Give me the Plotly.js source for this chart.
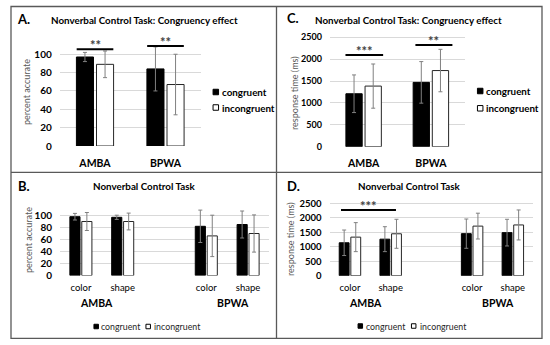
<!DOCTYPE html>
<html><head><meta charset="utf-8">
<script src="https://cdn.plot.ly/plotly-3.0.1.min.js"></script>
<style>html,body{margin:0;padding:0;background:#fff}#chart{width:550px;height:345px}</style>
</head><body><div id="chart"></div>
<script>
// ---------- DATA ----------
const groups = ["AMBA", "BPWA"];
const tasks = ["color", "shape"];
const seriesNames = ["congruent", "incongruent"];

// Panel A: accuracy (%) by group
const accCong = [97, 84];
const accCongErr = [5, 24];
const accIncong = [89, 67];
const accIncongErr = [14.5, 33];

// Panel C: response time (ms) by group
const rtCong = [1210, 1470];
const rtCongErr = [430, 475];
const rtIncong = [1385, 1740];
const rtIncongErr = [505, 485];

// Panel B: accuracy (%) by group x task (AMBA color, AMBA shape, BPWA color, BPWA shape)
const accTaskCong = [98, 97, 82, 85];
const accTaskCongErr = [5.5, 3.5, 27, 22.5];
const accTaskIncong = [90, 90, 66, 70];
const accTaskIncongErr = [15, 14, 34.5, 31];

// Panel D: response time (ms) by group x task
const rtTaskCong = [1135, 1260, 1450, 1485];
const rtTaskCongErr = [440, 430, 505, 460];
const rtTaskIncong = [1330, 1445, 1710, 1750];
const rtTaskIncongErr = [500, 500, 445, 517];

const accTicks = [0, 20, 40, 60, 80, 100];
const rtTicks = [0, 500, 1000, 1500, 2000, 2500];

// significance markers: [x start, x end, y level, label]
const sigA = [[-0.26, 0.26, 105.5, "**"], [0.74, 1.26, 109, "**"]];
const sigC = [[-0.27, 0.29, 2095, "***"], [0.77, 1.32, 2325, "**"]];
const sigD = [[-0.22, 1.13, 2265, "***"]];

// ---------- LAYOUT HELPERS ----------
const W = 550, H = 345;
const px = x => x / W;
const py = y => 1 - y / H;
const FONT = "Lato, 'Open Sans', sans-serif";

// positions on the split axes: empty slot between groups
const taskPos = [];
const taskText = [];
groups.forEach((g, gi) => tasks.forEach((t, ti) => {
  taskPos.push(gi * (tasks.length + 1) + ti);
  taskText.push(t);
}));

function barTrace(x, y, err, idx, xa, ya) {
  const black = idx === 0;
  return {
    type: "bar", x: x, y: y, name: seriesNames[idx], xaxis: xa, yaxis: ya,
    marker: {color: black ? "#000000" : "#ffffff", line: {color: black ? "#000000" : "#262626", width: 1}},
    error_y: {type: "data", array: err, visible: true, color: "#808080", thickness: 1, width: 2},
    showlegend: false, cliponaxis: false
  };
}

const data = [
  barTrace(groups, accCong, accCongErr, 0, "x", "y"),
  barTrace(groups, accIncong, accIncongErr, 1, "x", "y"),
  barTrace(taskPos, accTaskCong, accTaskCongErr, 0, "x2", "y2"),
  barTrace(taskPos, accTaskIncong, accTaskIncongErr, 1, "x2", "y2"),
  barTrace(groups, rtCong, rtCongErr, 0, "x3", "y3"),
  barTrace(groups, rtIncong, rtIncongErr, 1, "x3", "y3"),
  barTrace(taskPos, rtTaskCong, rtTaskCongErr, 0, "x4", "y4"),
  barTrace(taskPos, rtTaskIncong, rtTaskIncongErr, 1, "x4", "y4")
];

const gridCol = "#d9d9d9";
function yAxis(domain, range, ticks, fs) {
  return {
    domain: domain, range: range, tickvals: ticks, ticktext: ticks.map(String),
    showgrid: true, gridcolor: gridCol, gridwidth: 1, zeroline: false, showline: false,
    ticks: "", ticklabelstandoff: 7, fixedrange: true,
    tickfont: {family: FONT, size: fs, color: "#000", weight: "bold"}
  };
}
function xCatAxis(domain, anchor) {
  return {
    domain: domain, anchor: anchor, type: "category", showgrid: false, zeroline: false,
    showline: false, ticks: "", ticklabelstandoff: 9, fixedrange: true,
    tickfont: {family: FONT, size: 10.5, color: "#000", weight: "bold"}
  };
}
function xTaskAxis(domain, anchor) {
  return {
    domain: domain, anchor: anchor, range: [-0.5, taskPos[taskPos.length - 1] + 0.5],
    tickvals: taskPos, ticktext: taskText, showgrid: false, zeroline: false,
    showline: false, ticks: "", ticklabelstandoff: 5, fixedrange: true,
    tickfont: {family: FONT, size: 9.5, color: "#000"}
  };
}

const annotations = [];
const shapes = [];
function txt(text, x, y, size, opts) {
  annotations.push(Object.assign({
    text: text, x: px(x), y: py(y), xref: "paper", yref: "paper", showarrow: false,
    xanchor: "center", yanchor: "middle",
    font: {family: FONT, size: size, color: "#000"}
  }, opts || {}));
}

// panel letters and titles
txt("<b>A.</b>", 15, 19, 13, {xanchor: "left"});
txt("<b>B.</b>", 15.5, 186, 13, {xanchor: "left"});
txt("<b>C.</b>", 285, 18, 13, {xanchor: "left"});
txt("<b>D.</b>", 285, 186, 13, {xanchor: "left"});
txt("<b>Nonverbal Control Task: Congruency effect</b>", 144.5, 19.5, 9.8);
txt("<b>Nonverbal Control Task: Congruency effect</b>", 408.7, 19.5, 9.8);
txt("<b>Nonverbal Control Task</b>", 144, 186, 9.8);
txt("<b>Nonverbal Control Task</b>", 409, 186, 9.8);

// y-axis titles
const yTitleFont = {family: FONT, size: 9, color: "#595959"};
txt("percent accurate", 27, 92, 9, {textangle: -90, font: yTitleFont});
txt("percent accurate", 28, 240, 9, {textangle: -90, font: yTitleFont});
txt("response time (ms)", 294.5, 93.5, 9, {textangle: -90, font: yTitleFont});
txt("response time (ms)", 290.5, 239.5, 9, {textangle: -90, font: yTitleFont});

// group labels under split axes
groups.forEach((g, gi) => {
  const center = gi * (tasks.length + 1) + (tasks.length - 1) / 2 + (gi === 0 ? -0.13 : 0.13);
  ["x2", "x4"].forEach(xa => {
    annotations.push({
      text: "<b>" + g + "</b>", x: center, xref: xa, y: py(303), yref: "paper",
      showarrow: false, xanchor: "center", yanchor: "middle",
      font: {family: FONT, size: 10.5, color: "#000"}
    });
  });
});

// significance lines and stars
function sig(list, xa, ya) {
  list.forEach(s => {
    shapes.push({type: "line", xref: xa, yref: ya, x0: s[0], x1: s[1], y0: s[2], y1: s[2],
      line: {color: "#000", width: 2}});
    annotations.push({text: "<b>" + s[3] + "</b>", xref: xa, yref: ya, x: (s[0] + s[1]) / 2, y: s[2],
      yshift: 4, showarrow: false, xanchor: "center", yanchor: "middle",
      font: {family: FONT, size: 13, color: "#404040"}});
  });
}
sig(sigA, "x", "y");
sig(sigC, "x3", "y3");
sig(sigD, "x4", "y4");

// legends (swatch + label)
function legendItem(idx, sx, sy, size, tx, bold, fontSize) {
  shapes.push({type: "rect", xref: "paper", yref: "paper",
    x0: px(sx - size / 2), x1: px(sx + size / 2), y0: py(sy + size / 2), y1: py(sy - size / 2),
    fillcolor: idx === 0 ? "#000" : "#fff", line: {color: "#000", width: 1}});
  txt(bold ? "<b>" + seriesNames[idx] + "</b>" : seriesNames[idx], tx, sy, fontSize,
    {xanchor: "left", font: {family: FONT, size: fontSize, color: bold ? "#000" : "#262626"}});
}
legendItem(0, 215.8, 92, 5.5, 220, true, 9.8);
legendItem(1, 215.8, 107.5, 5.5, 220, true, 9.8);
legendItem(0, 480.2, 91, 5.5, 484.3, true, 9.8);
legendItem(1, 480.2, 108.3, 5.5, 484.3, true, 9.8);
legendItem(0, 96.2, 326.5, 4.5, 99.3, false, 8.8);
legendItem(1, 148.2, 326.5, 4.5, 151.7, false, 8.8);
legendItem(0, 360.3, 326, 4.5, 364.3, false, 8.8);
legendItem(1, 413.7, 326, 4.5, 417.7, false, 8.8);

// panel frame
const frameLine = {color: "#595959", width: 1.3};
shapes.push({type: "rect", xref: "paper", yref: "paper", x0: px(11), x1: px(542), y0: py(338.3), y1: py(6.5), line: frameLine});
shapes.push({type: "line", xref: "paper", yref: "paper", x0: px(276.5), x1: px(276.5), y0: py(338.3), y1: py(6.5), line: frameLine});
shapes.push({type: "line", xref: "paper", yref: "paper", x0: px(11), x1: px(542), y0: py(172.3), y1: py(172.3), line: frameLine});

const layout = {
  width: W, height: H, margin: {l: 0, r: 0, t: 0, b: 0},
  paper_bgcolor: "#fff", plot_bgcolor: "#fff",
  barmode: "group", bargap: 0.43, bargroupgap: 0.15, showlegend: false,
  font: {family: FONT, color: "#000"},
  xaxis: xCatAxis([px(59.75), px(200.75)], "y"),
  yaxis: Object.assign(yAxis([py(146), py(31.3)], [0, 125], accTicks, 10), {anchor: "x"}),
  xaxis2: xTaskAxis([px(60), px(269)], "y2"),
  yaxis2: Object.assign(yAxis([py(275.5), py(200.5)], [0, 125], accTicks, 10), {anchor: "x2"}),
  xaxis3: xCatAxis([px(330), px(464.5)], "y3"),
  yaxis3: Object.assign(yAxis([py(146.7), py(28.55)], [0, 2700], rtTicks, 9), {anchor: "x3"}),
  xaxis4: xTaskAxis([px(329.6), px(533.2)], "y4"),
  yaxis4: Object.assign(yAxis([py(275.7), py(197.4)], [0, 2700], rtTicks, 9.5), {anchor: "x4"}),
  annotations: annotations, shapes: shapes
};

Plotly.newPlot("chart", data, layout, {staticPlot: true, displayModeBar: false});
</script></body></html>
